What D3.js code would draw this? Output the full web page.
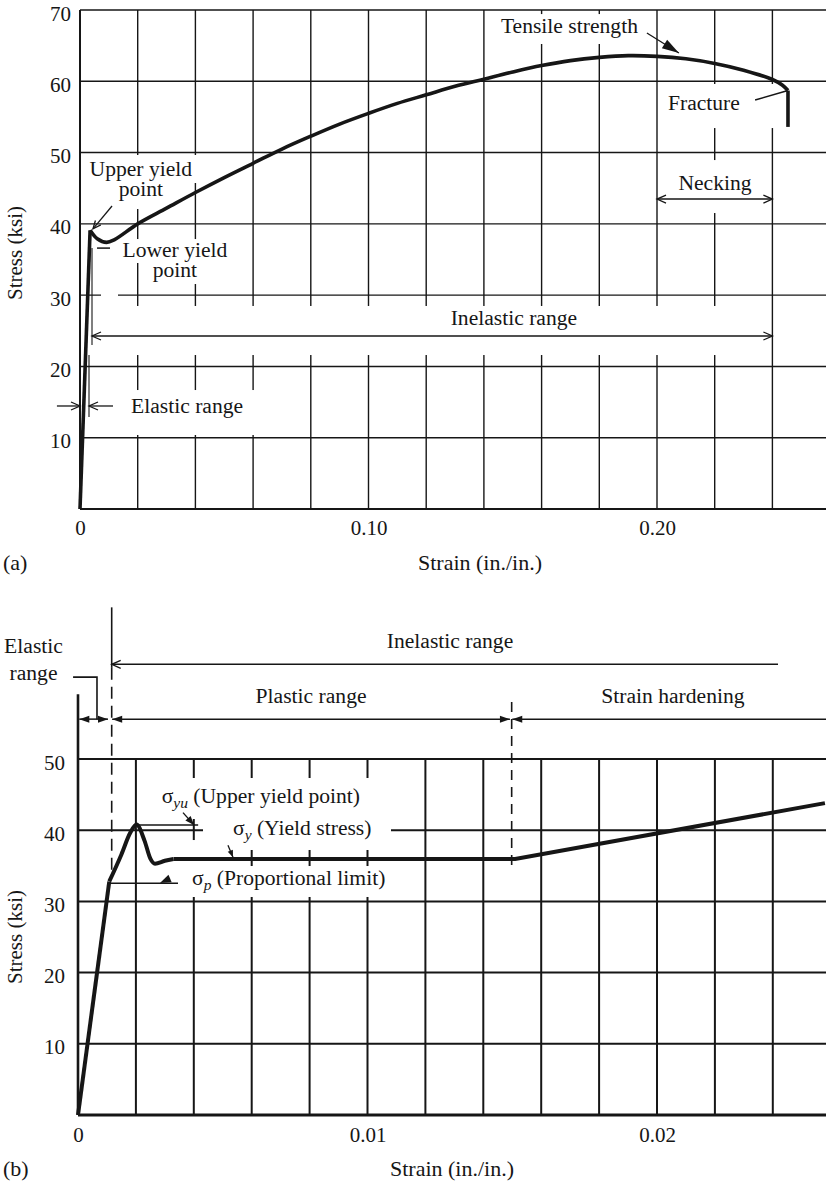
<!DOCTYPE html>
<html>
<head>
<meta charset="utf-8">
<script src="https://cdn.jsdelivr.net/npm/d3@7"></script>
<style>
  html, body { margin: 0; padding: 0; background: #fff; }
  svg { display: block; }
  text { font-family: "Liberation Serif", "Times New Roman", serif; fill: #161616; }
</style>
</head>
<body>
<svg id="chart" width="826" height="1183"></svg>
<script>
// ---------- (a) full stress-strain curve of mild steel ----------
const strainA = [0, 0.0035, 0.006, 0.0092, 0.012, 0.02, 0.03, 0.04, 0.05, 0.06, 0.07, 0.08, 0.09,
  0.10, 0.11, 0.12, 0.13, 0.14, 0.15, 0.16, 0.17, 0.18, 0.19, 0.20, 0.21, 0.22, 0.23, 0.24, 0.2435, 0.2454];
const stressA = [0, 39.1, 37.9, 37.4, 37.8, 40.0, 42.2, 44.4, 46.5, 48.5, 50.5, 52.3, 54.0,
  55.5, 56.9, 58.1, 59.3, 60.3, 61.3, 62.2, 62.9, 63.35, 63.6, 63.5, 63.15, 62.5, 61.55, 60.25, 59.45, 58.7];
const fractureA = { strain: 0.2454, from: 58.7, to: 53.6 };
const gridStrainA = [0.02, 0.04, 0.06, 0.08, 0.10, 0.12, 0.14, 0.16, 0.18, 0.20, 0.22, 0.24];
const gridStressA = [10, 20, 30, 40, 50, 60, 70];
const xTicksA = [0, 0.10, 0.20];
const xTickLabelsA = ['0', '0.10', '0.20'];
const yTicksA = [10, 20, 30, 40, 50, 60, 70];

// ---------- (b) initial part, enlarged strain scale ----------
const strainB = [0, 0.00108, 0.0015, 0.0018, 0.00202, 0.0023, 0.0025, 0.00266, 0.0030, 0.0033, 0.0151, 0.0258];
const stressB = [0, 32.8, 36.6, 39.6, 40.8, 38.5, 36.0, 35.3, 35.7, 35.95, 35.95, 43.8];
const gridStrainB = [0.002, 0.004, 0.006, 0.008, 0.010, 0.012, 0.014, 0.016, 0.018, 0.020, 0.022, 0.024];
const gridStressB = [10, 20, 30, 40, 50];
const xTicksB = [0, 0.01, 0.02];
const xTickLabelsB = ['0', '0.01', '0.02'];
const yTicksB = [10, 20, 30, 40, 50];

const svg = d3.select('#chart');
const INK = '#161616';
const FS = 21.6; // annotation font size

const xA = d3.scaleLinear().domain([0, 0.2]).range([80, 657]);
const yA = d3.scaleLinear().domain([0, 70]).range([509, 10]);
const xB = d3.scaleLinear().domain([0, 0.02]).range([78, 657]);
const yB = d3.scaleLinear().domain([0, 50]).range([1115, 759]);

// arrow head, tip at (x,y), pointing along ang
function head(g, x, y, ang, filled, len, half) {
  const bx = x - len * Math.cos(ang), by = y - len * Math.sin(ang);
  const px = -Math.sin(ang) * half, py = Math.cos(ang) * half;
  const p = g.append('path');
  if (filled) {
    p.attr('d', `M${x},${y}L${bx + px},${by + py}L${bx - px},${by - py}Z`).attr('fill', INK);
  } else {
    p.attr('d', `M${bx + px},${by + py}L${x},${y}L${bx - px},${by - py}`)
     .attr('fill', 'none').attr('stroke', INK).attr('stroke-width', 1.3);
  }
}

// line between two points (pixels) with optional heads
function arrow(g, a, b, o) {
  o = Object.assign({ w: 1.3, start: false, end: false, filled: false, len: 9, half: 4 }, o);
  g.append('line').attr('x1', a[0]).attr('y1', a[1]).attr('x2', b[0]).attr('y2', b[1])
    .attr('stroke', INK).attr('stroke-width', o.w).attr('stroke-dasharray', o.dash || null);
  const ang = Math.atan2(b[1] - a[1], b[0] - a[0]);
  if (o.end) head(g, b[0], b[1], ang, o.filled, o.len, o.half);
  if (o.start) head(g, a[0], a[1], ang + Math.PI, o.filled, o.len, o.half);
}

function label(g, p, str, anchor, size) {
  return g.append('text').attr('x', p[0]).attr('y', p[1])
    .attr('text-anchor', anchor || 'start').attr('font-size', size || FS).text(str);
}

// two stacked lines in one text element
function label2(g, p, lines, gap) {
  const t = g.append('text').attr('x', p[0]).attr('y', p[1])
    .attr('text-anchor', 'middle').attr('font-size', FS);
  lines.forEach((s, i) => t.append('tspan').attr('x', p[0]).attr('dy', i ? gap : 0).text(s));
  return t;
}

function grid(g, x, y, xs, ys, sMax, vMax, w) {
  g.append('g').selectAll('line').data(xs).join('line')
    .attr('x1', d => x(d)).attr('x2', d => x(d)).attr('y1', y(0)).attr('y2', y(vMax))
    .attr('stroke', INK).attr('stroke-width', w);
  g.append('g').selectAll('line').data(ys).join('line')
    .attr('x1', x(0)).attr('x2', x(sMax)).attr('y1', d => y(d)).attr('y2', d => y(d))
    .attr('stroke', INK).attr('stroke-width', w);
}

// white boxes that break the grid behind labels: [s0, s1, vTop, vBottom]
function masks(g, x, y, boxes) {
  g.append('g').selectAll('rect').data(boxes).join('rect')
    .attr('x', d => x(d[0])).attr('y', d => y(d[2]))
    .attr('width', d => x(d[1]) - x(d[0])).attr('height', d => y(d[3]) - y(d[2]))
    .attr('fill', '#fff');
}

function tickLabels(g, x, y, xt, xl, yt, padX, padY) {
  const ax = g.append('g').attr('transform', `translate(0,${y(0)})`)
    .call(d3.axisBottom(x).tickValues(xt).tickSize(0).tickPadding(padX).tickFormat((d, i) => xl[i]));
  const ay = g.append('g').attr('transform', `translate(${x(0)},0)`)
    .call(d3.axisLeft(y).tickValues(yt).tickSize(0).tickPadding(padY).tickFormat(d3.format('d')));
  [ax, ay].forEach(a => {
    a.select('.domain').remove();
    a.attr('font-size', 21).attr('font-family', '"Liberation Serif", serif');
    a.selectAll('text').attr('fill', INK);
  });
  ay.selectAll('text').attr('dy', '0.48em'); // labels sit a little below their line
}

// ================= chart (a) =================
const ga = svg.append('g');
const sMaxA = xA.invert(826);
grid(ga, xA, yA, gridStrainA, gridStressA, sMaxA, 70, 1.4);
masks(ga, xA, yA, [
  [0.0052, 0.2385, 28.48, 21.6],   // inelastic range band
  [0.0021, 0.0416, 49.66, 45.73],  // Upper yield
  [0.0111, 0.0312, 45.73, 42.08],  // point
  [0.0125, 0.0527, 37.87, 34.51],  // Lower yield
  [0.0229, 0.0430, 34.51, 31.56],  // point
  [0.00728, 0.01317, 30.72, 29.32],
  [0.01525, 0.0614, 16.69, 10.38], // Elastic range
  [0.1438, 0.1958, 69.43, 65.23],  // Tensile strength
  [0.2010, 0.2433, 59.62, 53.44],  // Fracture
  [0.2045, 0.2357, 48.95, 41.52]   // Necking
]);
// axes
ga.append('line').attr('x1', xA(0)).attr('x2', xA(0)).attr('y1', yA(0)).attr('y2', yA(70))
  .attr('stroke', INK).attr('stroke-width', 2);
ga.append('line').attr('x1', xA(0)).attr('x2', xA(sMaxA)).attr('y1', yA(0)).attr('y2', yA(0))
  .attr('stroke', INK).attr('stroke-width', 2);
tickLabels(ga, xA, yA, xTicksA, xTickLabelsA, yTicksA, 11, 9);

const ptsA = strainA.map((s, i) => [s, stressA[i]]);
const lineA = d3.line().x(d => xA(d[0])).y(d => yA(d[1]));
ga.append('path').attr('d', lineA(ptsA.slice(0, 2)))
  .attr('fill', 'none').attr('stroke', INK).attr('stroke-width', 3.6);
ga.append('path').attr('d', lineA.curve(d3.curveCatmullRom.alpha(0.5))(ptsA.slice(1)))
  .attr('fill', 'none').attr('stroke', INK).attr('stroke-width', 3.6).attr('stroke-linejoin', 'round');
ga.append('path').attr('d', d3.line().x(d => xA(d[0])).y(d => yA(d[1]))(
    [[fractureA.strain, fractureA.from], [fractureA.strain, fractureA.to]]))
  .attr('fill', 'none').attr('stroke', INK).attr('stroke-width', 3.6);

const PA = (s, v) => [xA(s), yA(v)];
// upper / lower yield point
label2(ga, PA(0.0211, 46.7), ['Upper yield', 'point'], 19.5);
arrow(ga, PA(0.0111, 42.5), PA(0.0045, 39.3), { end: true, len: 8, half: 3.5 });
label2(ga, PA(0.0329, 35.3), ['Lower yield', 'point'], 19.5);
arrow(ga, PA(0.0059, 36.6), PA(0.0104, 36.6), { w: 1.5 });
// inelastic range
arrow(ga, PA(0.00416, 36.6), PA(0.00416, 23.0), { w: 1.1 });
arrow(ga, PA(0.00416, 24.27), PA(0.24, 24.27), { start: true, end: true });
label(ga, PA(0.1504, 25.8), 'Inelastic range', 'middle');
// elastic range
arrow(ga, PA(-0.008, 14.45), PA(0, 14.45), { end: true });
arrow(ga, PA(0.01144, 14.45), PA(0.00312, 14.45), { end: true });
arrow(ga, PA(0.00312, 21.6), PA(0.00312, 12.9), { w: 1.1 });
label(ga, PA(0.01768, 13.47), 'Elastic range');
// tensile strength, fracture, necking
label(ga, PA(0.1459, 66.77), 'Tensile strength');
arrow(ga, PA(0.1965, 66.77), PA(0.2076, 63.96), { end: true, filled: true, len: 17, half: 5 });
label(ga, PA(0.2038, 56.0), 'Fracture');
arrow(ga, PA(0.234, 57.37), PA(0.2451, 58.68), { w: 1.5 });
label(ga, PA(0.2201, 44.75), 'Necking', 'middle');
arrow(ga, PA(0.20, 43.48), PA(0.24, 43.48), { start: true, end: true, w: 1.5 });

// titles
label(ga, [480, 570], 'Strain (in./in.)', 'middle', 22);
label(ga, [3, 570], '(a)', 'start', 22);
ga.append('text').attr('transform', 'translate(22,253) rotate(-90)')
  .attr('text-anchor', 'middle').attr('font-size', 21).text('Stress (ksi)');

// ================= chart (b) =================
const gb = svg.append('g');
const sMaxB = xB.invert(826);
grid(gb, xB, yB, gridStrainB, gridStressB, sMaxB, 50, 2);
masks(gb, xB, yB, [
  [0.002487, 0.010155, 47.33, 41.57], // sigma yu
  [0.004318, 0.010812, 41.6, 37.22],  // sigma y
  [0.0038, 0.004214, 38.62, 30.62],
  [0.003696, 0.010984, 34.97, 30.62]  // sigma p
]);
gb.append('line').attr('x1', xB(0)).attr('x2', xB(0)).attr('y1', yB(0)).attr('y2', yB(59.1))
  .attr('stroke', INK).attr('stroke-width', 2.6);
gb.append('line').attr('x1', xB(0)).attr('x2', xB(sMaxB)).attr('y1', yB(0)).attr('y2', yB(0))
  .attr('stroke', INK).attr('stroke-width', 2.8);
tickLabels(gb, xB, yB, xTicksB, xTickLabelsB, yTicksB, 12, 13);

const PB = (s, v) => [xB(s), yB(v)];
// range boundaries
arrow(gb, PB(0.001164, 71.3), PB(0.001164, 62.8), { w: 1.6 });
arrow(gb, PB(0.001164, 62.8), PB(0.001164, 34.1), { w: 1.6, dash: '12,7' });
arrow(gb, PB(0.01498, 58.0), PB(0.01498, 34.4), { w: 1.6, dash: '10,7' });

const ptsB = strainB.map((s, i) => [s, stressB[i]]);
const lineB = d3.line().x(d => xB(d[0])).y(d => yB(d[1]));
gb.append('path').attr('d', lineB(ptsB.slice(0, 2)))
  .attr('fill', 'none').attr('stroke', INK).attr('stroke-width', 4);
gb.append('path').attr('d', lineB(ptsB.slice(9)))
  .attr('fill', 'none').attr('stroke', INK).attr('stroke-width', 4);
gb.append('path').attr('d', lineB.curve(d3.curveMonotoneX)(ptsB.slice(1, 10)))
  .attr('fill', 'none').attr('stroke', INK).attr('stroke-width', 4).attr('stroke-linejoin', 'round');

// top dimension arrows
arrow(gb, PB(0.001164, 63.3), PB(0.02418, 63.3), { start: true, w: 1.5 });
label(gb, PB(0.01285, 65.6), 'Inelastic range', 'middle');
arrow(gb, PB(0.000045, 55.6), PB(0.001036, 55.6), { start: true, end: true, filled: true, w: 1.5, len: 10, half: 3.5 });
arrow(gb, PB(0.00118, 55.6), PB(0.01492, 55.6), { start: true, end: true, filled: true, w: 1.5, len: 10, half: 3.5 });
arrow(gb, PB(0.0150, 55.6), PB(sMaxB, 55.6), { start: true, filled: true, w: 1.5, len: 10, half: 3.5 });
label(gb, PB(0.00805, 57.87), 'Plastic range', 'middle');
label(gb, PB(0.02055, 57.87), 'Strain hardening', 'middle');
gb.append('path').attr('d', d3.line()([PB(-0.00017, 61.5), PB(0.000656, 61.5), PB(0.000656, 55.6)]))
  .attr('fill', 'none').attr('stroke', INK).attr('stroke-width', 1.6);
label2(gb, PB(-0.001537, 64.9), ['Elastic', 'range'], 27);

// sigma labels with subscripts
function sigma(g, p, sub, rest) {
  const t = g.append('text').attr('x', p[0]).attr('y', p[1]).attr('font-size', FS);
  t.append('tspan').text('σ');
  t.append('tspan').attr('font-style', 'italic').attr('font-size', 15.5).attr('dy', 5).text(sub);
  t.append('tspan').attr('dy', -5).text(' ' + rest);
}
sigma(gb, PB(0.00289, 43.8), 'yu', '(Upper yield point)');
arrow(gb, PB(0.00202, 40.73), PB(0.00415, 40.73), { w: 1.3 });
arrow(gb, PB(0.003627, 42.46), PB(0.004007, 40.73), { end: true, filled: true, w: 1.3, len: 9, half: 3.5 });
sigma(gb, PB(0.005354, 39.33), 'y', '(Yield stress)');
arrow(gb, PB(0.00518, 37.9), PB(0.005354, 36.2), { end: true, filled: true, w: 1.3, len: 7, half: 2.8 });
sigma(gb, PB(0.003938, 32.3), 'p', '(Proportional limit)');
arrow(gb, PB(0.00108, 32.54), PB(0.003454, 32.54), { w: 1.6 });
head(gb, xB(0.002832), yB(32.6), Math.atan2(yB(32.6) - yB(33.7), xB(0.002832) - xB(0.003454)), true, 11, 4);

label(gb, [452, 1176], 'Strain (in./in.)', 'middle', 22);
label(gb, [3, 1176], '(b)', 'start', 22);
gb.append('text').attr('transform', 'translate(22,937) rotate(-90)')
  .attr('text-anchor', 'middle').attr('font-size', 21).text('Stress (ksi)');
</script>
</body>
</html>
